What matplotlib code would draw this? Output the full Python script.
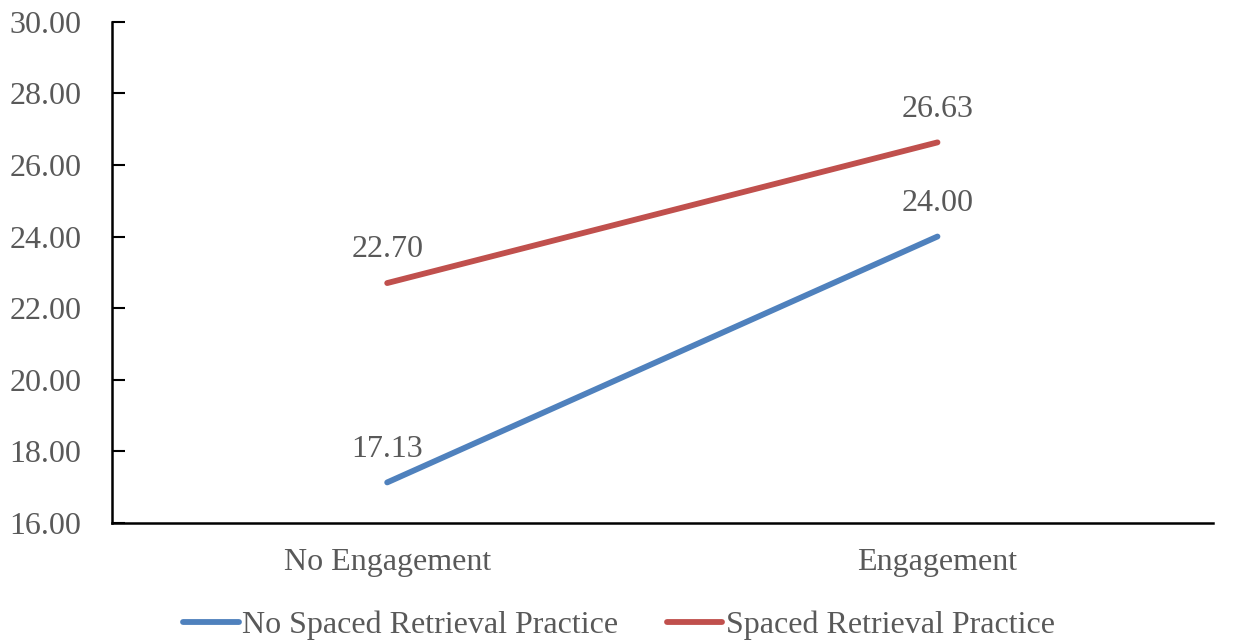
import matplotlib.pyplot as plt

categories = ["No Engagement", "Engagement"]
no_srp = [17.13, 24.00]
srp = [22.70, 26.63]
series_names = ["No Spaced Retrieval Practice", "Spaced Retrieval Practice"]
yticks = [16, 18, 20, 22, 24, 26, 28, 30]

plt.rcParams['font.family'] = ['Liberation Serif', 'DejaVu Serif']
txt = '#595959'
fs = 23

fig = plt.figure(figsize=(12.38, 6.4), dpi=100)
ax = fig.add_axes([0.0905, 0.183, 0.889, 0.783])

x = range(len(categories))
l1, = ax.plot(x, no_srp, color='#4F81BD', lw=4.2, solid_capstyle='round', label=series_names[0])
l2, = ax.plot(x, srp, color='#C0504D', lw=4.2, solid_capstyle='round', label=series_names[1])

for xs, ys in [(x, no_srp), (x, srp)]:
    for xi, yi in zip(xs, ys):
        ax.annotate(f"{yi:.2f}", (xi, yi), xytext=(0, 24), textcoords='offset points',
                    ha='center', va='center', fontsize=fs, color=txt)

ax.set_xlim(-0.5, 1.5)
ax.set_ylim(16, 30)
ax.set_xticks(list(x))
ax.set_xticklabels(categories)
ax.set_yticks(yticks)
ax.set_yticklabels([f"{v:.2f}" for v in yticks])
ax.tick_params(axis='x', length=0, pad=18, labelsize=fs, labelcolor=txt)
ax.tick_params(axis='y', direction='in', length=9, width=1.5, pad=22, labelsize=fs, labelcolor=txt)
for side in ['top', 'right']:
    ax.spines[side].set_visible(False)
for side in ['left', 'bottom']:
    ax.spines[side].set_linewidth(1.8)

fig.legend(handles=[l1, l2], loc='lower center', bbox_to_anchor=(0.5, -0.045), ncol=2,
           frameon=False, fontsize=fs, labelcolor=txt, handlelength=1.75,
           handletextpad=0.12, columnspacing=1.5)

fig.savefig('out.png', dpi=100)
